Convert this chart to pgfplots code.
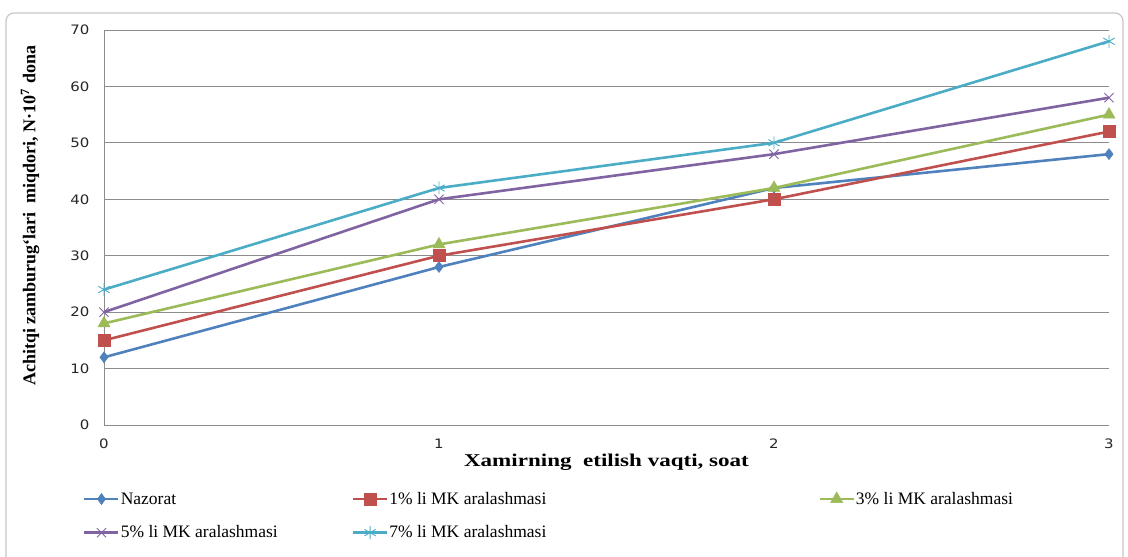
\documentclass[border=0pt]{standalone}
\usepackage{pgfplots}
\pgfplotsset{compat=1.18}
\usepackage{fontspec}
\setmainfont{Liberation Serif}
\newfontfamily\tickfont[FakeStretch=1.15]{DejaVu Sans}
\newfontfamily\xlabfont[FakeStretch=1.28]{Liberation Serif}
\definecolor{cblue}{HTML}{4F81BD}
\definecolor{cred}{HTML}{C0504D}
\definecolor{cgreen}{HTML}{9BBB59}
\definecolor{cpurple}{HTML}{8064A2}
\definecolor{ccyan}{HTML}{4BACC6}
\definecolor{gridgray}{HTML}{8C8C8C}
\begin{document}
\begin{tikzpicture}[x=1pt,y=1pt]
\path[use as bounding box] (-104,-132) rectangle (1024,425);
\draw[gray!45, line width=1.2pt, rounded corners=8pt] (-98,412) rectangle (1019,-170);
\begin{axis}[
  at={(0,0)}, anchor=south west,
  scale only axis, width=1005pt, height=395pt,
  xmin=0, xmax=3, ymin=0, ymax=70,
  xtick={0,1,2,3}, ytick={0,10,...,70},
  axis x line*=bottom, axis y line*=left,
  axis line style={gridgray, line width=0.8pt, -},
  ymajorgrids, grid style={gridgray, line width=0.8pt},
  major tick length=0pt,
  clip=false,
  /pgf/number format/assume math mode=true,
  tick label style={font=\tickfont\fontsize{13}{15}\selectfont, text=black!85},
  xticklabel style={yshift=-10pt},
  yticklabel style={xshift=-11pt},
  every axis x label/.style={at={(axis description cs:0.5,-0.0937)}, anchor=center},
  every axis y label/.style={at={(axis description cs:-0.0736,0.53)}, anchor=center, rotate=90},
  xlabel style={font=\xlabfont\bfseries\fontsize{18}{21}\selectfont},
  ylabel style={font=\bfseries\fontsize{18}{21}\selectfont},
  xlabel={Xamirning\ \ etilish vaqti, soat},
  ylabel={Achitqi zamburug‘lari\ \ miqdori, N·10\textsuperscript{7} dona},
  legend columns=3,
  legend style={at={(axis description cs:0,0)}, anchor=north west, xshift=-21pt, yshift=-66pt,
    draw=none, fill=none, inner sep=0pt, row sep=18pt, column sep=0pt,
    font=\fontsize{17.5}{20}\selectfont, nodes={inner sep=1pt, anchor=west}},
  legend cell align=left,
  legend image code/.code={\draw[mark repeat=2, mark phase=2] plot coordinates {(0pt,0pt) (17pt,0pt) (34pt,0pt)};},
  every axis plot/.append style={line width=2.6pt, mark options={solid}},
]
\addplot[cblue, mark=diamond*, mark size=5.5pt, mark options={line width=0.5pt}] coordinates {(0,12) (1,28) (2,42) (3,48)};
\addlegendentry{\makebox[230pt][l]{Nazorat}}
\addplot[cred, mark=square*, mark size=6pt, mark options={line width=0.5pt}] coordinates {(0,15) (1,30) (2,40) (3,52)};
\addlegendentry{\makebox[428pt][l]{1\% li MK aralashmasi}}
\addplot[cgreen, mark=triangle*, mark size=7pt, mark options={line width=0.5pt}] coordinates {(0,18) (1,32) (2,42) (3,55)};
\addlegendentry{3\% li MK aralashmasi}
\addplot[cpurple, mark=x, mark size=6.5pt, mark options={line width=0.9pt}] coordinates {(0,20) (1,40) (2,48) (3,58)};
\addlegendentry{\makebox[230pt][l]{5\% li MK aralashmasi}}
\addplot[ccyan, mark=asterisk, mark size=6.5pt, mark options={line width=0.9pt}] coordinates {(0,24) (1,42) (2,50) (3,68)};
\addlegendentry{\makebox[428pt][l]{7\% li MK aralashmasi}}
\end{axis}
\end{tikzpicture}
\end{document}
